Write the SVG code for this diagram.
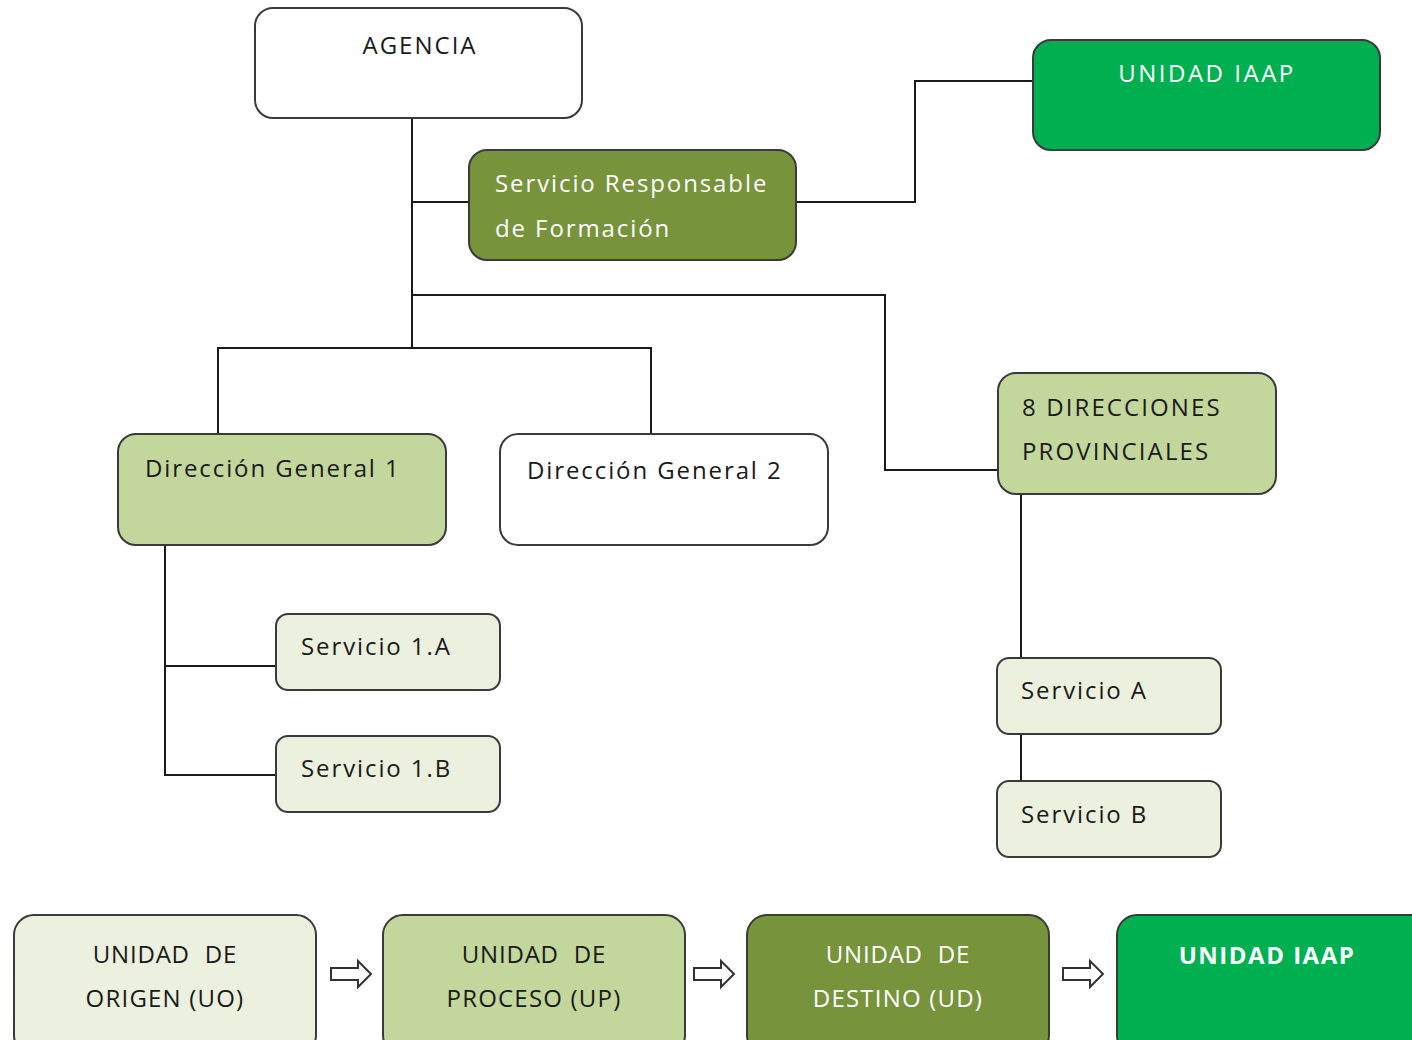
<svg xmlns="http://www.w3.org/2000/svg" width="1412" height="1040" viewBox="0 0 1412 1040">
<style>
.box{stroke:#3a3a3a;stroke-width:2}
.w{fill:#ffffff}.l{fill:#ebf1de}.m{fill:#c3d69b}.d{fill:#77933c}.g{fill:#00b050}
text{font-family:"Open Sans","Liberation Sans",sans-serif;font-size:24px;fill:#1a1a1a}
.wt{fill:#ffffff}
.c{text-anchor:middle}
.sp{letter-spacing:1.9px}
.conn{fill:none;stroke:#1a1a1a;stroke-width:2}
.arr{fill:#ffffff;stroke:#333;stroke-width:2}
</style>
<rect width="1412" height="1040" fill="#ffffff"/>
<g id="connectors">
<path class="conn" d="M412 118V348M412 202H469M796 202H915V81H1033M412 295H885V470H998M218 434V348H651V434M165 545V775H276M165 666H276M1021 494V658M1021 734V781"/>
</g>
<g id="agencia"><rect class="box w" x="255" y="8" width="327" height="110" rx="18"/><text class="c" x="420" y="54" font-size="26" letter-spacing="2">AGENCIA</text></g>
<g id="servicio-resp"><rect class="box d" x="469" y="150" width="327" height="110" rx="18"/><text class="wt sp" x="495" y="192">Servicio Responsable</text><text class="wt sp" x="495" y="237">de Formación</text></g>
<g id="unidad-iaap-top"><rect class="box g" x="1033" y="40" width="347" height="110" rx="18"/><text class="wt c" x="1207" y="82" letter-spacing="2.5">UNIDAD IAAP</text></g>
<g id="dg1"><rect class="box m" x="118" y="434" width="328" height="111" rx="18"/><text class="sp" x="145" y="477">Dirección General 1</text></g>
<g id="dg2"><rect class="box w" x="500" y="434" width="328" height="111" rx="18"/><text class="sp" x="527" y="479">Dirección General 2</text></g>
<g id="dir-prov"><rect class="box m" x="998" y="373" width="278" height="121" rx="18"/><text x="1022" y="416" letter-spacing="2.1">8 DIRECCIONES</text><text x="1022" y="460" letter-spacing="2.1">PROVINCIALES</text></g>
<g id="serv-1a"><rect class="box l" x="276" y="614" width="224" height="76" rx="12"/><text class="sp" x="301" y="655">Servicio 1.A</text></g>
<g id="serv-1b"><rect class="box l" x="276" y="736" width="224" height="76" rx="12"/><text class="sp" x="301" y="777">Servicio 1.B</text></g>
<g id="serv-a"><rect class="box l" x="997" y="658" width="224" height="76" rx="12"/><text class="sp" x="1021" y="699">Servicio A</text></g>
<g id="serv-b"><rect class="box l" x="997" y="781" width="224" height="76" rx="12"/><text class="sp" x="1021" y="823">Servicio B</text></g>
<g id="uo"><rect class="box l" x="14" y="915" width="302" height="140" rx="20"/><text class="c" x="165" y="963" word-spacing="8" letter-spacing="0.8">UNIDAD DE</text><text class="c" x="165" y="1007" letter-spacing="1.2">ORIGEN (UO)</text></g>
<g id="up"><rect class="box m" x="383" y="915" width="302" height="140" rx="20"/><text class="c" x="534" y="963" word-spacing="8" letter-spacing="0.8">UNIDAD DE</text><text class="c" x="534" y="1007" letter-spacing="1.2">PROCESO (UP)</text></g>
<g id="ud"><rect class="box d" x="747" y="915" width="302" height="140" rx="20"/><text class="c wt" x="898" y="963" word-spacing="8" letter-spacing="0.8">UNIDAD DE</text><text class="c wt" x="898" y="1007" letter-spacing="1.2">DESTINO (UD)</text></g>
<g id="iaap-bottom"><rect class="box g" x="1117" y="915" width="320" height="140" rx="20"/><text class="c wt" x="1267" y="964" font-weight="bold" font-size="27" letter-spacing="1.5">UNIDAD IAAP</text></g>
<g id="flow-arrows">
<path class="arr" d="M331 968H358V961L371 974L358 987V980H331Z"/>
<path class="arr" d="M694 968H721V961L734 974L721 987V980H694Z"/>
<path class="arr" d="M1063 968H1090V961L1103 974L1090 987V980H1063Z"/>
</g>
</svg>
